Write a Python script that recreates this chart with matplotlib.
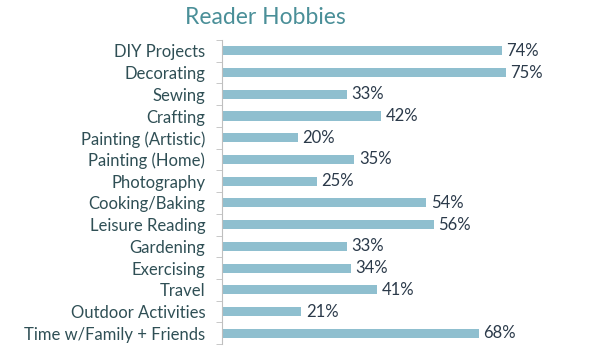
import matplotlib.pyplot as plt
import numpy as np

# Reader hobby survey results
hobbies = ['DIY Projects', 'Decorating', 'Sewing', 'Crafting', 'Painting (Artistic)',
           'Painting (Home)', 'Photography', 'Cooking/Baking', 'Leisure Reading',
           'Gardening', 'Exercising', 'Travel', 'Outdoor Activities',
           'Time w/Family + Friends']
percent = [74, 75, 33, 42, 20, 35, 25, 54, 56, 33, 34, 41, 21, 68]

plt.rcParams['font.family'] = ['Lato', 'DejaVu Sans']

fig = plt.figure(figsize=(6, 3.6), dpi=100)
ax = fig.add_axes([0.37, 0.044, 0.63, 0.845])

y = np.arange(len(hobbies))
ax.barh(y, percent, height=0.42, color='#8fbfcf')

for yi, val in zip(y, percent):
    ax.text(val + 1.2, yi, f'{val}%', va='center', ha='left',
            fontsize=12, color='#2b3a4a')

ax.set_xlim(0, 100)
ax.set_ylim(len(hobbies) - 0.5, -0.5)
ax.set_yticks(y)
ax.set_yticklabels(hobbies, fontsize=12, color='#2f4f55')
ax.tick_params(axis='y', which='major', length=0, pad=12)
ax.set_yticks(np.arange(-0.5, len(hobbies)), minor=True)
ax.tick_params(axis='y', which='minor', length=4, color='#bfbfbf', direction='out')
ax.set_xticks([])

for side in ['top', 'right', 'bottom']:
    ax.spines[side].set_visible(False)
ax.spines['left'].set_color('#bfbfbf')

fig.text(0.443, 0.952, 'Reader Hobbies', ha='center', va='center',
         fontsize=16.5, color='#4a8f98')

plt.savefig('out.png', dpi=100)
